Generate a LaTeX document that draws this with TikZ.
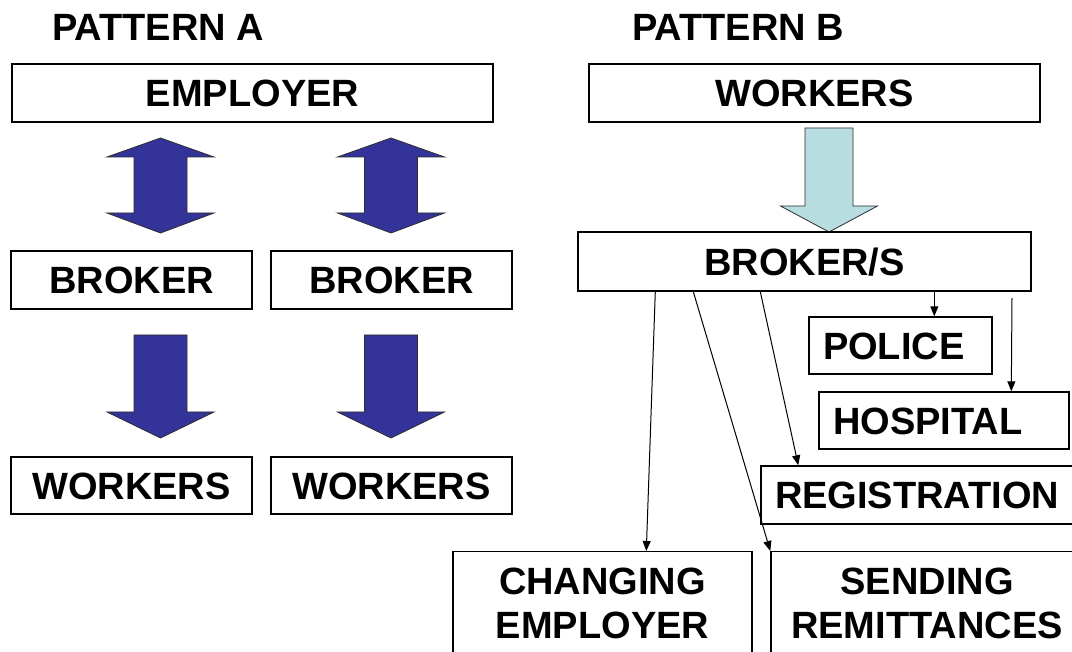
\documentclass[tikz,border=0pt]{standalone}
\usepackage{fontspec}
\setmainfont{Liberation Sans}
\usetikzlibrary{arrows.meta}
\definecolor{arrblue}{RGB}{51,51,153}
\definecolor{arrlight}{RGB}{183,221,224}
\definecolor{edgegray}{RGB}{45,45,45}
\begin{document}
\begin{tikzpicture}[x=1pt,y=-1pt,
  bigfont/.style={font=\fontsize{38}{44}\selectfont\bfseries},
  title/.style={bigfont, inner sep=0pt, anchor=base west},
  box/.style={draw=black, line width=1.4pt, fill=white, bigfont, inner sep=0pt,
    text height=27.2pt, text depth=0pt, minimum height=58pt},
  lbox/.style={box, align=left, inner xsep=14pt},
  tbox/.style={draw=black, line width=1.4pt, fill=white, bigfont, align=center,
    anchor=north, inner sep=0pt, minimum height=104pt},
  conn/.style={line width=1pt, draw=black, -{Triangle[length=10pt,width=8pt]}},
  blockarrow/.style={fill=arrblue, draw=edgegray, line width=0.8pt, line join=miter},
  lightarrow/.style={fill=arrlight, draw=edgegray, line width=0.8pt, line join=miter},
  dblarr/.pic={\path[blockarrow] (0,138) -- (53.5,157) -- (26.5,157) -- (26.5,213)
    -- (53.5,213) -- (0,233) -- (-53.5,213) -- (-26.5,213) -- (-26.5,157)
    -- (-53.5,157) -- cycle;},
  downarr/.pic={\path[blockarrow] (-26.5,335) -- (26.5,335) -- (26.5,412)
    -- (53.5,412) -- (0,438) -- (-53.5,412) -- (-26.5,412) -- cycle;}
]
\useasboundingbox (0,0) rectangle (1072,652);
\clip (0,0) rectangle (1072,652);
\fill[white] (0,0) rectangle (1072,652);

% Pattern A
\node[title] (ta) at (52,40.5) {PATTERN A};
\node[box, minimum width=481pt] (emp) at (252.5,93) {EMPLOYER};
\node[box, minimum width=241pt] (br1) at (131.5,280) {BROKER};
\node[box, minimum width=241pt] (br2) at (391.5,280) {BROKER};
\node[box, minimum width=241pt, minimum height=57pt] (wk1) at (131.5,485.5) {WORKERS};
\node[box, minimum width=241pt, minimum height=57pt] (wk2) at (391.5,485.5) {WORKERS};
\pic at (160.5,0) {dblarr};
\pic at (391,0) {dblarr};
\pic at (160.5,0) {downarr};
\pic at (391,0) {downarr};

% Pattern B
\node[title] (tb) at (632,40.5) {PATTERN B};
\node[box, minimum width=451pt] (wkb) at (814.5,93) {WORKERS};
\path[lightarrow] (805,128) -- (853,128) -- (853,206) -- (877.5,206) -- (829,232)
  -- (780.5,206) -- (805,206) -- cycle;
\node[box, minimum width=453pt, minimum height=59pt] (bs) at (804.5,261.5) {BROKER/S};
\node[lbox, text width=155pt, minimum height=57pt] (po) at (900.5,345.5) {POLICE};
\node[lbox, text width=222pt, minimum height=57pt] (ho) at (944,420.5) {HOSPITAL};
\node[lbox, text width=289pt, minimum height=58pt] (rg) at (919.5,495) {REGISTRATION};
\node[tbox, minimum width=299pt] (ch) at (602.5,551) {CHANGING\\EMPLOYER};
\node[tbox, minimum width=312pt] (se) at (927,551) {SENDING\\REMITTANCES};

% connectors
\coordinate (hs) at (1012,298);
\draw[conn] ([xshift=78pt]bs.south west) -- ([xshift=194pt]ch.north west);
\draw[conn] ([xshift=116pt]bs.south west) -- (se.north west);
\draw[conn] ([xshift=183pt]bs.south west) -- ([xshift=38pt]rg.north west);
\draw[conn] ([xshift=357pt]bs.south west) -- ([xshift=126pt]po.north west);
\draw[conn] (hs) -- ([xshift=193pt]ho.north west);
\end{tikzpicture}
\end{document}
